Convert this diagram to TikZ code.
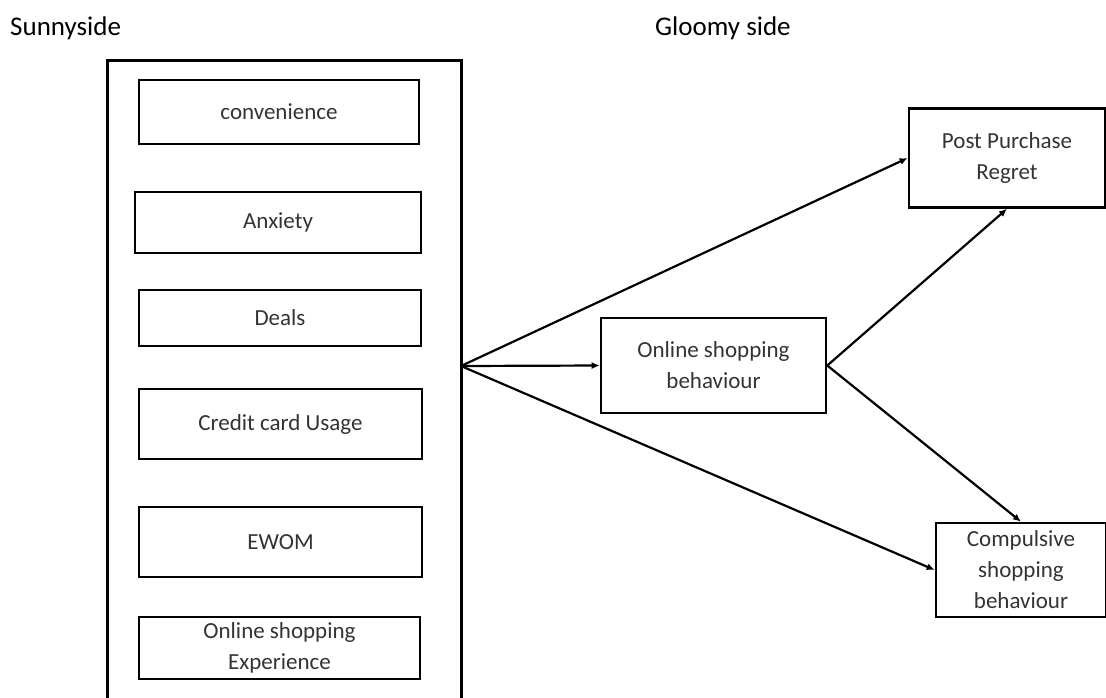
\documentclass[tikz,border=0pt]{standalone}
\usepackage{fontspec}
\setmainfont{Carlito}
\usetikzlibrary{arrows.meta}
\begin{document}
\begin{tikzpicture}[x=1pt,y=-1pt,
  box/.style={draw=black,line width=2.6pt,inner sep=0pt,align=center,
    font=\fontsize{23}{31}\selectfont,text=black!80},
  title/.style={anchor=base west,inner sep=0pt,font=\fontsize{27}{32}\selectfont,text=black},
  arr/.style={line width=2.2pt,-{Latex[length=8pt,width=7pt]}}]
\useasboundingbox (0,0) rectangle (1106,697);
\node[title] (sunny) at (10,35) {Sunnyside};
\node[title] (gloomy) at (655,35) {Gloomy side};
\node[draw=black,line width=3pt,minimum width=354pt,minimum height=645pt,inner sep=0pt] (outer) at (284,382.5) {};
\node[box,minimum width=280pt,minimum height=64pt] (conv) at (279,112) {convenience};
\node[box,minimum width=286pt,minimum height=61pt] (anx) at (278,222.5) {Anxiety};
\node[box,minimum width=282pt,minimum height=56pt] (deals) at (280,318) {Deals};
\node[box,minimum width=283pt,minimum height=70pt] (credit) at (280.5,424) {Credit card Usage};
\node[box,minimum width=283pt,minimum height=70pt] (ewom) at (280.5,542) {EWOM};
\node[box,minimum width=281pt,minimum height=62pt] (ose) at (279.5,648) {Online shopping\\Experience};
\node[box,minimum width=225pt,minimum height=95pt] (osb) at (713.5,365.5) {Online shopping\\behaviour};
\node[box,minimum width=196pt,minimum height=99pt] (ppr) at (1007,158) {Post Purchase\\Regret};
\node[box,minimum width=170pt,minimum height=94pt] (csb) at (1021,570) {Compulsive\\shopping\\behaviour};
\coordinate (fan) at (461,366);
\draw[arr] (fan) -- (ppr.west);
\draw[arr] (fan) -- (osb.west);
\draw[arr] (fan) -- (csb.west);
\draw[arr] (osb.east) -- (ppr.south);
\draw[arr] (osb.east) -- (csb.north);
\end{tikzpicture}
\end{document}
